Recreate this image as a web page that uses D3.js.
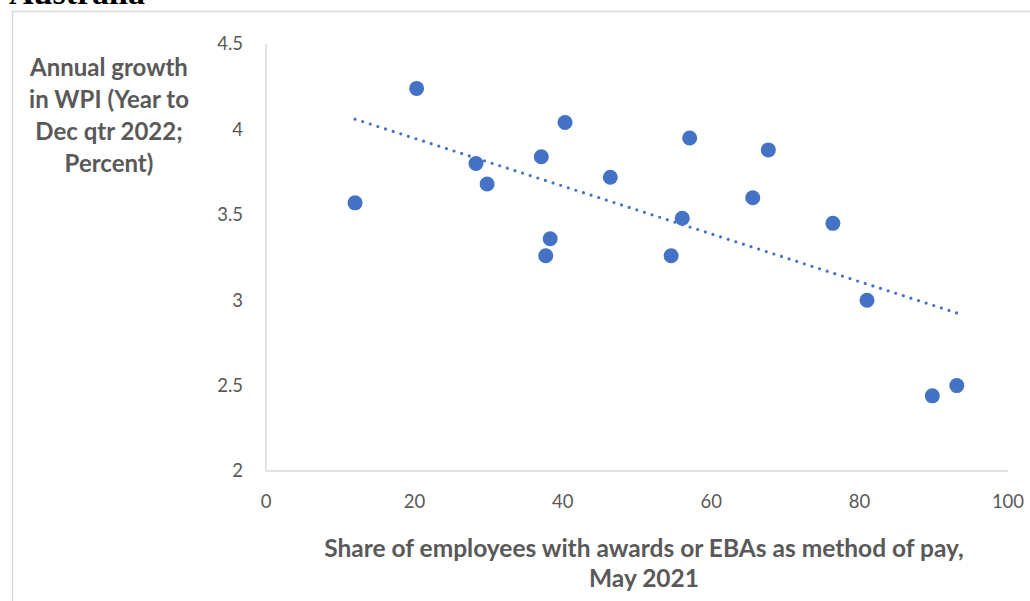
<!DOCTYPE html>
<html>
<head>
<meta charset="utf-8">
<script src="https://cdn.jsdelivr.net/npm/d3@7"></script>
<style>
  body { margin: 0; background: #fff; overflow: hidden; }
  svg { display: block; }
</style>
</head>
<body>
<svg id="chart" width="1030" height="601"></svg>
<script>
// Share of employees on awards/EBAs (x) vs annual WPI growth (y), by industry
var shareAwardsEBA = [12.0, 20.3, 28.3, 29.8, 37.1, 40.3, 38.3, 37.7, 46.4, 56.1, 54.6, 57.1, 65.6, 67.7, 76.4, 81.0, 89.8, 93.1];
var wpiGrowth = [3.57, 4.24, 3.80, 3.68, 3.84, 4.04, 3.36, 3.26, 3.72, 3.48, 3.26, 3.95, 3.60, 3.88, 3.45, 3.00, 2.44, 2.50];
var xTicks = [0, 20, 40, 60, 80, 100];
var yTicks = [2, 2.5, 3, 3.5, 4, 4.5];
var yTitleLines = ["Annual growth", "in WPI (Year to", "Dec qtr 2022;", "Percent)"];
var xTitleLines = ["Share of employees with awards or EBAs as method of pay,", "May 2021"];
var chartTitle = "Australia";

var svg = d3.select("#chart");

var margin = { left: 266, right: 22, top: 44, bottom: 130 };
var width = 1030, height = 601;

var axisColor = "#d9d9d9";
var textColor = "#595959";
var pointColor = "#4472C4";
var fontFamily = "Lato, 'Open Sans', sans-serif";

// Scales
var xScale = d3.scaleLinear()
    .domain([0, 100])
    .range([margin.left, width - margin.right]);

var yScale = d3.scaleLinear()
    .domain([2, 4.5])
    .range([height - margin.bottom, margin.top]);

// Title, cut off at the top like the source
svg.append("text")
    .attr("x", 9)
    .attr("y", 4)
    .attr("font-family", "'Liberation Serif', 'DejaVu Serif', serif")
    .attr("font-weight", "bold")
    .attr("font-size", "34px")
    .attr("fill", "#000")
    .text(chartTitle);

// Chart area border
svg.append("rect")
    .attr("x", 12.5)
    .attr("y", 11.5)
    .attr("width", 1100)
    .attr("height", 700)
    .attr("fill", "none")
    .attr("stroke", axisColor)
    .attr("stroke-width", 1.5);

// Axes lines
svg.append("line")
    .attr("x1", xScale(0)).attr("x2", xScale(0))
    .attr("y1", yScale(4.5)).attr("y2", yScale(2))
    .attr("stroke", axisColor)
    .attr("stroke-width", 1.5);

svg.append("line")
    .attr("x1", xScale(0)).attr("x2", xScale(100))
    .attr("y1", yScale(2)).attr("y2", yScale(2))
    .attr("stroke", axisColor)
    .attr("stroke-width", 1.5);

// Tick labels
svg.selectAll("text.ytick")
    .data(yTicks)
    .enter()
    .append("text")
    .attr("class", "ytick")
    .attr("x", xScale(0) - 23)
    .attr("y", d => yScale(d))
    .attr("dy", "0.35em")
    .attr("text-anchor", "end")
    .attr("font-family", fontFamily)
    .attr("font-size", "18.5px")
    .attr("fill", textColor)
    .text(d => d);

svg.selectAll("text.xtick")
    .data(xTicks)
    .enter()
    .append("text")
    .attr("class", "xtick")
    .attr("x", d => xScale(d))
    .attr("y", yScale(2) + 31)
    .attr("dy", "0.35em")
    .attr("text-anchor", "middle")
    .attr("font-family", fontFamily)
    .attr("font-size", "18.5px")
    .attr("fill", textColor)
    .text(d => d);

// Axis titles
svg.selectAll("text.ytitle")
    .data(yTitleLines)
    .enter()
    .append("text")
    .attr("class", "ytitle")
    .attr("x", 109)
    .attr("y", (d, i) => 68 + i * 32)
    .attr("dy", "0.35em")
    .attr("text-anchor", "middle")
    .attr("font-family", fontFamily)
    .attr("font-weight", "bold")
    .attr("font-size", "24px")
    .attr("fill", textColor)
    .text(d => d);

svg.selectAll("text.xtitle")
    .data(xTitleLines)
    .enter()
    .append("text")
    .attr("class", "xtitle")
    .attr("x", 644)
    .attr("y", (d, i) => 548 + i * 30)
    .attr("dy", "0.35em")
    .attr("text-anchor", "middle")
    .attr("font-family", fontFamily)
    .attr("font-weight", "bold")
    .attr("font-size", "24.5px")
    .attr("fill", textColor)
    .text(d => d);

// Linear trendline (least squares), spanning the data range
var points = shareAwardsEBA.map((x, i) => ({ x: x, y: wpiGrowth[i] }));
var meanX = d3.mean(points, d => d.x);
var meanY = d3.mean(points, d => d.y);
var slope = d3.sum(points, d => (d.x - meanX) * (d.y - meanY)) /
    d3.sum(points, d => (d.x - meanX) * (d.x - meanX));
var intercept = meanY - slope * meanX;
var xExtent = d3.extent(points, d => d.x);

svg.append("line")
    .attr("x1", xScale(xExtent[0]))
    .attr("y1", yScale(intercept + slope * xExtent[0]))
    .attr("x2", xScale(xExtent[1]))
    .attr("y2", yScale(intercept + slope * xExtent[1]))
    .attr("stroke", pointColor)
    .attr("stroke-width", 3.2)
    .attr("stroke-linecap", "round")
    .attr("stroke-dasharray", "0 8");

// Scatter points
svg.selectAll("circle.pt")
    .data(points)
    .enter()
    .append("circle")
    .attr("class", "pt")
    .attr("cx", d => xScale(d.x))
    .attr("cy", d => yScale(d.y))
    .attr("r", 7.5)
    .attr("fill", pointColor);
</script>
</body>
</html>
